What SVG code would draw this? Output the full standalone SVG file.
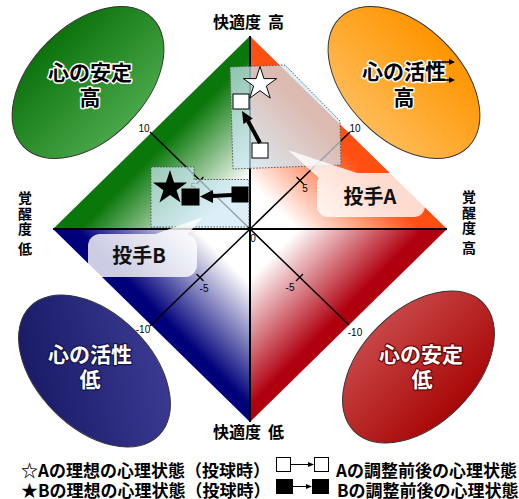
<svg xmlns="http://www.w3.org/2000/svg" width="519" height="499" viewBox="0 0 519 499">
<defs>
<style>
.jp{font-family:"Noto Sans CJK JP","Noto Sans CJK SC",sans-serif;font-weight:bold;}
.ax{font-size:16px;fill:#000;}
.axv{font-size:14px;fill:#000;writing-mode:vertical-rl;letter-spacing:1.5px;}
.el{font-size:21px;text-anchor:middle;}
.elT{fill:#000;stroke:#fff;stroke-width:3;paint-order:stroke;stroke-linejoin:round;}
.elB{fill:#fff;stroke-width:2.5;paint-order:stroke;stroke-linejoin:round;}
.num{font-family:"Liberation Sans",Arial,sans-serif;font-size:10px;text-anchor:middle;fill:#000;}
.axis{stroke:#000;stroke-width:2;fill:none;}
.diag{stroke:#000;stroke-width:1.5;fill:none;}
.tick{stroke:#000;stroke-width:1.3;}
.zone{fill:#cde8f6;fill-opacity:0.7;stroke:#555;stroke-width:1;stroke-dasharray:1.5 1.5;}
.call{fill:#fff;}
.callt{font-size:20px;text-anchor:middle;fill:#111;}
.leg{font-size:17px;fill:#000;}
.ell{stroke:#333;stroke-width:1;}
.sqW{fill:#fff;stroke:#000;stroke-width:1;}
.sqB{fill:#000;stroke:#000;stroke-width:1;}
</style>
<linearGradient id="gTL" gradientUnits="userSpaceOnUse" x1="151.5" y1="132.5" x2="250" y2="229">
<stop offset="0" stop-color="#097709"/><stop offset="0.12" stop-color="#097709"/><stop offset="0.74" stop-color="#fff"/></linearGradient>
<linearGradient id="gTR" gradientUnits="userSpaceOnUse" x1="348.5" y1="132.5" x2="250" y2="229">
<stop offset="0" stop-color="#ff4e10"/><stop offset="0.12" stop-color="#ff5014"/><stop offset="0.76" stop-color="#fff"/></linearGradient>
<linearGradient id="gBL" gradientUnits="userSpaceOnUse" x1="151.5" y1="325.5" x2="250" y2="229">
<stop offset="0" stop-color="#00007a"/><stop offset="0.1" stop-color="#00007a"/><stop offset="0.72" stop-color="#fff"/></linearGradient>
<linearGradient id="gBR" gradientUnits="userSpaceOnUse" x1="348.5" y1="325.5" x2="250" y2="229">
<stop offset="0" stop-color="#b00010"/><stop offset="0.1" stop-color="#b00010"/><stop offset="0.75" stop-color="#fff"/></linearGradient>
<linearGradient id="eG" x1="0" y1="0" x2="0" y2="1"><stop offset="0" stop-color="#0c720c"/><stop offset="1" stop-color="#48a848"/></linearGradient>
<linearGradient id="eO" x1="0" y1="0" x2="0" y2="1"><stop offset="0" stop-color="#ff9400"/><stop offset="1" stop-color="#ffbb55"/></linearGradient>
<linearGradient id="eN" x1="0" y1="1" x2="1" y2="0"><stop offset="0" stop-color="#141460"/><stop offset="1" stop-color="#40409a"/></linearGradient>
<linearGradient id="eR" x1="0" y1="0" x2="0" y2="1"><stop offset="0" stop-color="#c84646"/><stop offset="1" stop-color="#a80606"/></linearGradient>
<path id="star" d="M0,-18 L4.04,-5.56 L17.12,-5.56 L6.54,2.13 L10.58,14.56 L0,6.88 L-10.58,14.56 L-6.54,2.13 L-17.12,-5.56 L-4.04,-5.56 Z"/>
</defs>
<rect width="519" height="499" fill="#fff"/>

<g id="diamond">
<polygon points="250,36 53,229 250,229" fill="url(#gTL)"/>
<polygon points="250,36 447,229 250,229" fill="url(#gTR)"/>
<polygon points="53,229 250,422 250,229" fill="url(#gBL)"/>
<polygon points="447,229 250,422 250,229" fill="url(#gBR)"/>
</g>

<g id="axes">
<path class="axis" d="M53,229 H447 M250,36 V422"/>
<path class="diag" d="M150,132 L349,325 M350,132 L150,326"/>
<path class="tick" d="M196.5,184 L203.5,177 M296.5,177 L303.5,184 M196.5,274 L203.5,281 M296,281 L303,274"/>
<text class="num" x="144" y="131.5">10</text>
<text class="num" x="355" y="131.5">10</text>
<text class="num" x="193" y="191">5</text>
<text class="num" x="305" y="191.5">5</text>
<text class="num" x="204" y="291.5">-5</text>
<text class="num" x="290" y="290.5">-5</text>
<text class="num" x="143" y="332.5">-10</text>
<text class="num" x="355" y="335.5">-10</text>
<text class="num" x="253" y="241.5">0</text>
</g>

<g id="zoneA"><polygon class="zone" points="230,67 285,65 340,121 341,165 233,169"/></g>
<g id="zoneB"><polygon class="zone" points="151,167 194,167 194,179.5 249,179.5 249,227 151,227"/></g>

<g id="pitcherA-marks">
<use href="#star" transform="translate(260,84) scale(0.97)" fill="#fff" stroke="#000" stroke-width="1"/>
<rect class="sqW" x="233" y="94" width="16" height="15"/>
<rect class="sqW" x="252" y="143" width="16" height="15"/>
</g>
<g id="pitcherB-marks">
<use href="#star" transform="translate(170,188)" fill="#000"/>
<rect class="sqB" x="182" y="189" width="17" height="16"/>
<rect class="sqB" x="232" y="187" width="16" height="15"/>
</g>

<g id="connectors">
<line x1="260" y1="143" x2="248" y2="121" stroke="#000" stroke-width="4"/>
<polygon points="242,111 252.8,118.5 243.4,124.1" fill="#000"/>
<line x1="232" y1="195" x2="212" y2="196" stroke="#000" stroke-width="4"/>
<polygon points="200,196.5 213,190 213,203" fill="#000"/>
</g>

<g id="calloutA">
<g opacity="0.8">
<rect class="call" x="317" y="173" width="108" height="44" rx="11"/>
<path class="call" d="M288,150 L360,174 L320,179 Z"/>
</g>
<text class="jp callt" x="370" y="204">投手A</text>
</g>
<g id="calloutB">
<g opacity="0.8">
<rect class="call" x="88" y="234" width="109" height="43" rx="12"/>
<path class="call" d="M203,217 L186,236 L150,236 Z"/>
</g>
<text class="jp callt" x="139" y="263">投手B</text>
</g>

<g id="ellipse-stable-high">
<ellipse class="ell" cx="0" cy="0" rx="91" ry="57" transform="translate(88,82.5) rotate(-45)" fill="url(#eG)"/>
<text class="jp el elT" x="90" y="80">心の安定</text>
<text class="jp el elT" x="90" y="105">高</text>
</g>
<g id="ellipse-active-high">
<ellipse class="ell" cx="0" cy="0" rx="91" ry="57" transform="translate(404,82.5) rotate(45)" fill="url(#eO)"/>
<text class="jp el elT" x="404" y="79">心の活性</text>
<text class="jp el elT" x="404" y="105">高</text>
<path d="M432,62 H450 M433,80 H450" stroke="#000" stroke-width="1.3"/>
<path d="M455,62 L449,59 L449,65 Z M455,80 L449,77 L449,83 Z" fill="#000"/>
</g>
<g id="ellipse-active-low">
<ellipse class="ell" cx="0" cy="0" rx="91" ry="57" transform="translate(94.5,371) rotate(45)" fill="url(#eN)"/>
<text class="jp el elB" x="90" y="362" stroke="#15154a">心の活性</text>
<text class="jp el elB" x="90" y="387" stroke="#15154a">低</text>
</g>
<g id="ellipse-stable-low">
<ellipse class="ell" cx="0" cy="0" rx="91" ry="57" transform="translate(418.5,367) rotate(-45)" fill="url(#eR)"/>
<text class="jp el elB" x="421" y="362" stroke="#6a0808">心の安定</text>
<text class="jp el elB" x="422" y="387" stroke="#6a0808">低</text>
</g>

<g id="axis-labels">
<text class="jp ax" y="28"><tspan x="213">快適度</tspan><tspan x="268">高</tspan></text>
<text class="jp ax" y="438"><tspan x="213">快適度</tspan><tspan x="268">低</tspan></text>
<text class="jp axv" x="25" y="191">覚醒度 低</text>
<text class="jp axv" x="469" y="190">覚醒度 高</text>
</g>

<g id="legend">
<text class="jp leg" x="21" y="477">☆Aの理想の心理状態（投球時）</text>
<text class="jp leg" x="21" y="497">★Bの理想の心理状態（投球時）</text>
<rect class="sqW" x="276.5" y="457.5" width="14" height="14"/>
<line x1="290.5" y1="464.5" x2="309" y2="464.5" stroke="#000" stroke-width="1"/>
<polygon points="314,464.5 308,462 308,467" fill="#000"/>
<rect class="sqW" x="314.5" y="457.5" width="14" height="14"/>
<rect class="sqB" x="276.5" y="479.5" width="16" height="14"/>
<line x1="292.5" y1="486.5" x2="307" y2="486.5" stroke="#000" stroke-width="1"/>
<polygon points="312,486.5 306,484 306,489" fill="#000"/>
<rect class="sqB" x="312.5" y="479.5" width="16" height="14"/>
<text class="jp leg" x="336" y="477">Aの調整前後の心理状態</text>
<text class="jp leg" x="337" y="497">Bの調整前後の心理状態</text>
</g>
</svg>
